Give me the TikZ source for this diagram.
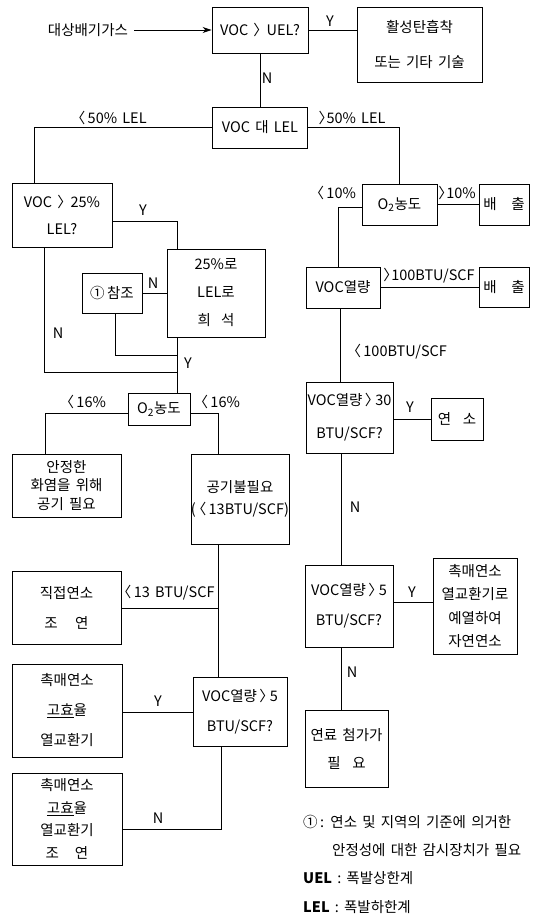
\documentclass[tikz,border=0pt]{standalone}
\usepackage{fontspec}
\setmainfont[WordSpace=1.6]{Noto Sans CJK KR}
\usetikzlibrary{arrows.meta,calc}
\newcommand\ls[1]{\fontsize{14.5}{#1}\selectfont}
\newcommand\rb{〉\kern-0.45em}
\newcommand\lb{\kern-0.45em〈}
\newcommand\gp[1]{\hspace{#1em}}
\begin{document}
\begin{tikzpicture}[x=1pt,y=-1pt,
  box/.style={draw,line width=0.9pt,inner sep=0pt,align=center,font=\ls{16}},
  sz/.style 2 args={minimum width=#1pt,minimum height=#2pt},
  ln/.style={line width=0.9pt},
  lab/.style={font=\ls{16},inner sep=0pt},
  note/.style={font=\ls{16},inner sep=0pt,anchor=west}]
\useasboundingbox[fill=white] (0,0) rectangle (533,916);

% top
\node[lab] (src) at (88,30) {대상배기가스};
\node[box,sz={96}{46}] (uel) at (260,30) {VOC \rb{} UEL?};
\node[box,sz={125}{75},font=\ls{35}] (act) at (419.5,44.5) {활성탄흡착\\또는 기타 기술};
\node[box,sz={95}{41}] (lel) at (260,127.5) {VOC 대 LEL};

% left branch
\node[box,sz={100}{64},font=\ls{27}] (v25) at (62,215) {VOC \rb{} 25\%\\LEL?};
\node[box,sz={98}{88},font=\ls{28}] (dil) at (216,293) {25\%로\\LEL로\\희\gp{0.7}석};
\node[box,sz={60}{40}] (ref) at (112,293) {①\,참조};
\node[box,sz={62}{32}] (o2a) at (159,409) {O\textsubscript{2}농도};
\node[box,sz={109}{63},font=\ls{18.5}] (air) at (66.5,485.5) {안정한\\화염을 위해\\공기 필요};
\node[box,sz={94}{90},font=\ls{22}] (noair) at (240,499) {공기불필요\\(\,\lb\,13BTU/SCF)};
\node[box,sz={109}{73},font=\ls{30}] (direct) at (66.5,608) {직접연소\\조\gp{1.2}연};
\node[box,sz={110}{93},font=\ls{30}] (cat1) at (67,710.5) {촉매연소\\\underline{고효}율\\열교환기};
\node[box,sz={94}{69},font=\ls{30}] (v5a) at (240,711.5) {VOC열량\,\rb\,5\\BTU/SCF?};
\node[box,sz={110}{92},font=\ls{22.5}] (cat2) at (67,819) {촉매연소\\\underline{고효}율\\열교환기\\조\gp{1.1}연};

% right branch
\node[box,sz={75}{41}] (o2b) at (399.5,204.5) {O\textsubscript{2}농도};
\node[box,sz={50}{41}] (ex1) at (504,204.5) {배\gp{1}출};
\node[box,sz={74}{41}] (heat) at (343,287.5) {VOC열량};
\node[box,sz={50}{40}] (ex2) at (504,287.5) {배\gp{1}출};
\node[box,sz={87}{71},font=\ls{33}] (v30) at (349.5,417.5) {VOC열량\,\rb\,30\\BTU/SCF?};
\node[box,sz={52}{42}] (burn) at (457,419) {연\gp{0.8}소};
\node[box,sz={88}{82},font=\ls{30}] (v5b) at (349,606) {VOC열량\,\rb\,5\\BTU/SCF?};
\node[box,sz={84}{96},font=\ls{23.3}] (cat3) at (475,606) {촉매연소\\열교환기로\\예열하여\\자연연소};
\node[box,sz={83}{77},font=\ls{28}] (fuel) at (346.5,748.5) {연료 첨가가\\필\gp{0.8}요};

% connectors top
\draw[ln,-{Stealth[length=9pt,width=6pt]}] (src.east) ++(6,0) coordinate (s0) -- (s0 -| uel.west);
\draw[ln] (uel.east) -- (uel.east -| act.west);
\draw[ln] (uel.south) -- (lel.north);
\draw[ln] (lel.west) -| ($(v25.north west)+(23,0)$);
\draw[ln] (lel.east) -| (o2b.north);

% left connectors
\draw[ln] ($(v25.east)+(0,6)$) -| ($(dil.north west)+(11,0)$);
\draw[ln] (ref.east) -- (dil.west);
\coordinate (j1) at (178,355);
\coordinate (j2) at (178,372);
\draw[ln] ($(ref.south)+(3,0)$) |- (j1);
\draw[ln] ($(v25.south west)+(33,0)$) |- (j2);
\draw[ln] ($(dil.south west)+(11,0)$) coordinate (d1) -- (d1 |- o2a.north);
\draw[ln] ($(o2a.west)+(0,4)$) -| ($(air.north west)+(34,0)$);
\draw[ln] ($(o2a.east)+(0,4)$) -| ($(noair.north west)+(28,0)$);
\draw[ln] ($(noair.south west)+(28,0)$) coordinate (n1) -- (n1 |- v5a.north);
\draw[ln] (direct.east) -- (direct.east -| n1);
\draw[ln] ($(v5a.west)+(0,1)$) -- ($(v5a.west -| cat1.east)+(0,1)$);
\draw[ln] ($(v5a.south west)+(29,0)$) |- ($(cat2.east)+(0,10)$);

% right connectors
\draw[ln] (o2b.east) -- (o2b.east -| ex1.west);
\draw[ln] ($(o2b.west)+(0,3)$) -| ($(heat.north west)+(33,0)$);
\draw[ln] (heat.east) -- (heat.east -| ex2.west);
\draw[ln] ($(heat.south west)+(35,0)$) coordinate (h1) -- (h1 |- v30.north);
\draw[ln] ($(v30.east)+(0,1.5)$) -- ($(v30.east -| burn.west)+(0,1.5)$);
\draw[ln] ($(v30.south west)+(35.5,0)$) coordinate (h2) -- (h2 |- v5b.north);
\draw[ln] ($(v5b.east)+(0,-4)$) -- ($(v5b.east -| cat3.west)+(0,-4)$);
\draw[ln] ($(v5b.south west)+(37,0)$) coordinate (h3) -- (h3 |- fuel.north);

% labels
\node[lab] (l1) at (330,21) {Y};
\node[lab] (l2) at (267,78) {N};
\node[lab] (l3) at (112,118) {\lb\,50\% LEL};
\node[lab] (l4) at (352,118) {\rb 50\% LEL};
\node[lab] (l5) at (143,210) {Y};
\node[lab] (l6) at (153,283) {N};
\node[lab] (l7) at (58,333) {N};
\node[lab] (l8) at (188,363) {Y};
\node[lab] (l9) at (86,402) {\lb\,16\%};
\node[lab] (l10) at (220,402) {\lb\,16\%};
\node[lab] (l11) at (169,593) {\lb\,13 BTU/SCF};
\node[lab] (l12) at (158,701) {Y};
\node[lab] (l13) at (158,818) {N};
\node[lab] (l14) at (336,193) {\lb\,10\%};
\node[lab] (l15) at (457,193) {\rb 10\%};
\node[lab] (l16) at (429,276) {\rb 100BTU/SCF};
\node[lab] (l17) at (400,352) {\lb\,100BTU/SCF};
\node[lab] (l18) at (410,407) {Y};
\node[lab] (l19) at (355,507) {N};
\node[lab] (l20) at (412,592) {Y};
\node[lab] (l21) at (352,672) {N};

% notes
\node[note] (n1t) at (303,822) {①\,: 연소 및 지역의 기준에 의거한};
\node[note] (n2t) at (332,850) {안정성에 대한 감시장치가 필요};
\node[note] (n3t) at (303,878) {\textbf{UEL} : 폭발상한계};
\node[note] (n4t) at (303,907) {\textbf{LEL} : 폭발하한계};
\end{tikzpicture}
\end{document}
